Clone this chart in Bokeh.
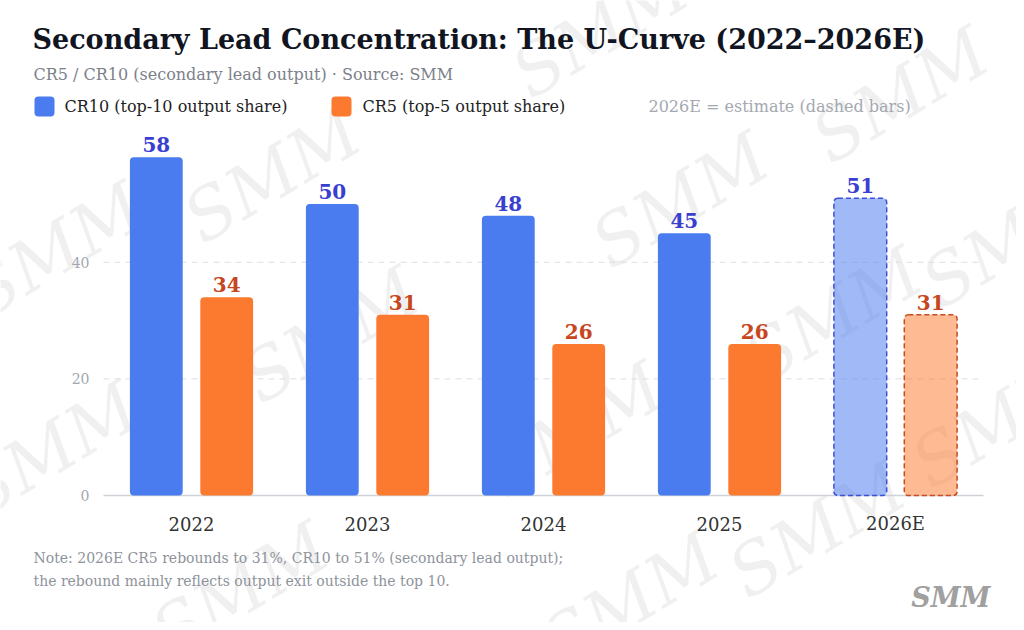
from bokeh.plotting import figure
from bokeh.models import Label, BoxAnnotation, Range1d
from bokeh.core.properties import value
from bokeh.embed import file_html
from bokeh.resources import INLINE
import math

years = ["2022", "2023", "2024", "2025", "2026E"]
cr10 = [58, 50, 48, 45, 51]
cr5 = [34, 31, 26, 26, 31]
estimate = [False, False, False, False, True]
y_ticks = [0, 20, 40]

SERIF = "DejaVu Serif"
W, H = 1016, 622

# the frame fills the whole canvas; ranges chosen so that the plot area
# sits where the reference has it (first category at 191px, 0 at 495px)
PX_X = 176.0
PX_Y = 5.83
p = figure(width=W, height=H, output_backend="svg", toolbar_location=None,
           x_axis_location=None, y_axis_location=None,
           x_range=Range1d(-191 / PX_X, (W - 191) / PX_X),
           y_range=Range1d(-(H - 495) / PX_Y, 495 / PX_Y),
           min_border=0)
p.outline_line_color = None
p.grid.visible = False


def sx(x):
    return x


def sy(y):
    return H - y


# watermark (page pixels)
marks = [(600, 30), (900, 95), (272, 175), (680, 200), (55, 250), (330, 335),
         (1010, 240), (833, 315), (50, 450), (575, 430), (1000, 420), (817, 530),
         (240, 590), (630, 600)]
for mx, my in marks:
    p.add_layout(Label(x=sx(mx), y=sy(my), x_units="screen", y_units="screen",
                       text="SMM", text_font=SERIF, text_font_style="italic",
                       text_font_size="70px", text_color="#000000", text_alpha=0.06,
                       text_align="center", text_baseline="middle",
                       angle=math.radians(31), level="underlay"))

# grid + baseline
grid = [t for t in y_ticks if t > 0]
p.segment(x0=[-0.5] * len(grid), x1=[len(years) - 0.5] * len(grid), y0=grid, y1=grid,
          line_color="#dcdfe4", line_dash="6 5", line_width=1)
p.segment(x0=[-0.5], x1=[len(years) - 0.5], y0=[0], y1=[0],
          line_color="#cfd2d8", line_width=1.5)

# bars
xi = list(range(len(years)))
for vals, off, fill, eline, tcol in (
        (cr10, -0.2, "#4a7bef", "#3d4fd8", "#3a3fcf"),
        (cr5, 0.2, "#fb7a2f", "#c94a1e", "#c6461d")):
    xs = [i + off for i, e in zip(xi, estimate) if not e]
    tops = [v for v, e in zip(vals, estimate) if not e]
    p.vbar(x=xs, top=tops, width=0.3, fill_color=fill, line_color=None, border_radius=4)
    xs = [i + off for i, e in zip(xi, estimate) if e]
    tops = [v for v, e in zip(vals, estimate) if e]
    p.vbar(x=xs, top=tops, width=0.3, fill_color=fill, fill_alpha=0.52, line_color=eline,
           line_width=1.5, line_dash="5 3", border_radius=4)
    p.text(x=[i + off for i in xi], y=vals, text=[str(v) for v in vals],
           y_offset=-5, text_align="center", text_baseline="bottom",
           text_font=value(SERIF), text_font_style="bold", text_font_size="20px",
           text_color=tcol)

# axis labels
p.text(x=xi, y=[0] * len(years), text=years, y_offset=28, text_align="center",
       text_baseline="middle", text_font=value(SERIF), text_font_size="18px",
       text_color="#333333")
p.text(x=[-0.5] * len(y_ticks), y=y_ticks, text=[str(t) for t in y_ticks], x_offset=-14,
       text_align="right", text_baseline="middle", text_font=value(SERIF),
       text_font_size="14px", text_color="#a2a7ae")


def lab(x, y, text, size, color, style="normal", align="left"):
    p.add_layout(Label(x=sx(x), y=sy(y), x_units="screen", y_units="screen",
                       text=text, text_font=SERIF, text_font_style=style,
                       text_font_size=size, text_color=color, text_align=align,
                       text_baseline="middle"))


lab(32, 39, "Secondary Lead Concentration: The U-Curve (2022\u20132026E)", "27px", "#111522", "bold")
lab(33, 74, "CR5 / CR10 (secondary lead output) \u00b7 Source: SMM", "16px", "#7c818a")

lab(64, 106, "CR10 (top-10 output share)", "16px", "#222222")
lab(362, 106, "CR5 (top-5 output share)", "16px", "#222222")
lab(648, 106, "2026E = estimate (dashed bars)", "16px", "#a4a8b0")
for bx, c in ((34, "#4a7bef"), (331, "#fb7a2f")):
    p.add_layout(BoxAnnotation(left=sx(bx), right=sx(bx + 20), top=sy(96), bottom=sy(116),
                               left_units="screen", right_units="screen",
                               top_units="screen", bottom_units="screen",
                               fill_color=c, fill_alpha=1, line_color=None,
                               border_radius=4))

lab(33, 557, "Note: 2026E CR5 rebounds to 31%, CR10 to 51% (secondary lead output);", "14px", "#8e939b")
lab(33, 580, "the rebound mainly reflects output exit outside the top 10.", "14px", "#8e939b")
lab(990, 597, "SMM", "27px", "#a0a0a0", "bold italic", "right")

open("out.html", "w").write(file_html(p, INLINE))
